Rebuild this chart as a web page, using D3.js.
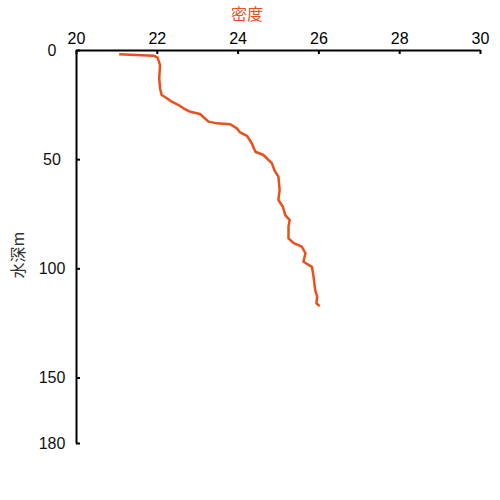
<!DOCTYPE html>
<html>
<head>
<meta charset="utf-8">
<script src="https://cdn.jsdelivr.net/npm/d3@7"></script>
<style>
  body { margin: 0; background: #fff; }
  text { font-family: "Liberation Sans", Arial, sans-serif; }
  .cjk { font-family: "Noto Sans CJK SC", sans-serif; }
</style>
</head>
<body>
<div id="main"></div>
<script>
const xTicks = [20, 22, 24, 26, 28, 30];
const yTicks = [0, 50, 100, 150, 180];

// density (x) and depth m (y)
const density = [21.07, 21.92, 22.02, 22.08, 22.06, 22.08, 22.12, 22.25, 22.37, 22.54,
  22.66, 22.83, 23.07, 23.28, 23.49, 23.82, 23.98, 24.06, 24.23, 24.35,
  24.44, 24.64, 24.85, 24.91, 25.01, 25.04, 25.01, 25.12, 25.18, 25.29,
  25.26, 25.26, 25.39, 25.59, 25.68, 25.63, 25.84, 25.88, 25.92, 25.97,
  25.95, 26.03];
const depth = [2.0, 2.6, 3.5, 6.9, 13.0, 17.5, 20.6, 22.1, 23.7, 25.2,
  26.7, 28.3, 29.3, 32.8, 33.6, 34.0, 35.9, 37.7, 39.3, 42.7,
  46.6, 48.1, 51.9, 55.0, 58.0, 64.1, 68.7, 71.8, 75.6, 77.9,
  80.9, 86.3, 88.5, 90.1, 93.1, 97.0, 99.3, 103.8, 110.0, 113.0,
  116.0, 117.3];

const ctx = { W: 500, H: 500, color: "#e8501c" };

function createViz() {
  const svg = d3.select("#main").append("svg")
    .attr("width", ctx.W).attr("height", ctx.H);

  const x = d3.scaleLinear().domain([20, 30]).range([76, 480]);
  const y = d3.scaleLinear().domain([0, 180]).range([50, 443]);

  const pts = density.map((d, i) => ({ x: d, y: depth[i] }));

  svg.append("path")
    .datum(pts)
    .attr("fill", "none")
    .attr("stroke", ctx.color)
    .attr("stroke-width", 2.5)
    .attr("stroke-linejoin", "round")
    .attr("d", d3.line().x(d => x(d.x)).y(d => y(d.y)));

  const xAxis = svg.append("g")
    .attr("transform", `translate(0,${y(0)})`)
    .call(d3.axisTop(x).tickValues(xTicks).tickSizeInner(-4).tickSizeOuter(0).tickPadding(6));
  xAxis.select(".domain").attr("stroke-width", 2);
  xAxis.selectAll(".tick line").attr("stroke-width", 2);
  xAxis.selectAll("text").style("font-size", "16px").attr("fill", "#000");

  const yAxis = svg.append("g")
    .attr("transform", `translate(${x(20)},0)`)
    .call(d3.axisLeft(y).tickValues(yTicks).tickSizeInner(-4).tickSizeOuter(0).tickPadding(0));
  yAxis.select(".domain").attr("stroke-width", 2);
  yAxis.selectAll(".tick line").attr("stroke-width", 2);
  yAxis.selectAll("text")
    .style("font-size", "16px")
    .attr("fill", "#111")
    .attr("text-anchor", "middle")
    .attr("x", 52 - x(20));

  svg.append("text")
    .attr("class", "cjk")
    .attr("x", 247).attr("y", 20)
    .attr("text-anchor", "middle")
    .style("font-size", "16px")
    .attr("fill", ctx.color)
    .text("密度");

  svg.append("text")
    .attr("class", "cjk")
    .attr("transform", "translate(24,255) rotate(-90)")
    .attr("text-anchor", "middle")
    .style("font-size", "16px")
    .attr("fill", "#333")
    .text("水深m");
}

createViz();
</script>
</body>
</html>
